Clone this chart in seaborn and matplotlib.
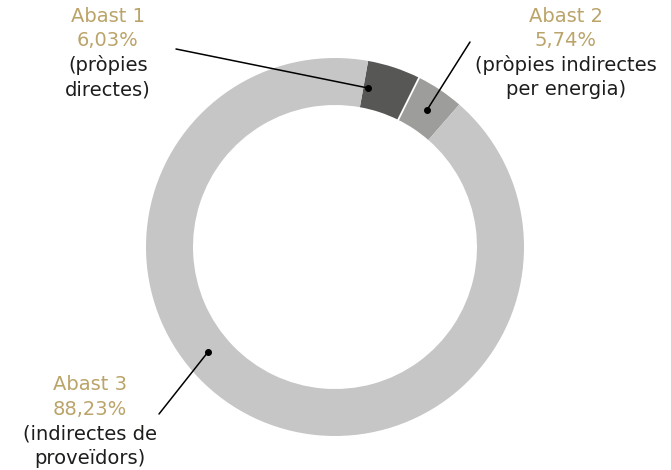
import numpy as np
import matplotlib
matplotlib.use("Agg")
import matplotlib.pyplot as plt
import seaborn as sns

scopes = ["Abast 1", "Abast 2", "Abast 3"]
arc_share = [4.53, 4.08, 91.39]
pct_labels = ["6,03%", "5,74%", "88,23%"]
descriptions = ["(pròpies\ndirectes)", "(pròpies indirectes\nper energia)", "(indirectes de\nproveïdors)"]
slice_colors = ["#575756", "#9d9d9c", "#c6c6c6"]

GOLD = "#bba46a"
INK = "#1d1d1b"

sns.set_theme(style="white")
plt.rcParams["font.family"] = ["DejaVu Sans"]

fig = plt.figure(figsize=(6.71, 4.70), dpi=100)
ax = fig.add_axes([0, 0, 1, 1])

cx, cy = 335, 223
r_out, ring = 189, 47
start = 79.9

wedges, _ = ax.pie(arc_share, colors=slice_colors, startangle=start,
                   counterclock=False, radius=r_out, center=(cx, cy),
                   wedgeprops=dict(width=ring, edgecolor="none"))

# thin white cut between Abast 1 and Abast 2
theta = np.deg2rad(start - 360 * arc_share[0] / 100)
rr = np.array([r_out - ring - 1, r_out + 1])
ax.plot(cx + rr * np.cos(theta), cy + rr * np.sin(theta), color="white", lw=1.3)

ax.set_xlim(0, 671)
ax.set_ylim(0, 470)
ax.set_aspect("equal")
ax.axis("off")

# annotation layout: (anchor on ring, line end, text centre x, top line y)
layout = [
    ((368, 470 - 88), (176, 470 - 49), 108, 470 - 16),
    ((427, 470 - 110), (470, 470 - 42), 566, 470 - 16),
    ((208, 470 - 352), (159, 470 - 414), 90, 470 - 385),
]
step = 24.5
for i, (anchor, tail, tx, ty) in enumerate(layout):
    ax.plot([tail[0], anchor[0]], [tail[1], anchor[1]], color="black", lw=1.1)
    ax.plot(*anchor, "o", color="black", ms=4)
    ax.text(tx, ty, scopes[i], ha="center", va="center", color=GOLD,
            fontsize=14, fontweight="normal")
    ax.text(tx, ty - step, pct_labels[i], ha="center", va="center", color=GOLD,
            fontsize=14, fontweight="normal")
    for j, line in enumerate(descriptions[i].split("\n")):
        ax.text(tx, ty - step * (2 + j), line, ha="center", va="center",
                color=INK, fontsize=14, fontweight="normal")

fig.savefig("out.png", dpi=100, facecolor="white")
